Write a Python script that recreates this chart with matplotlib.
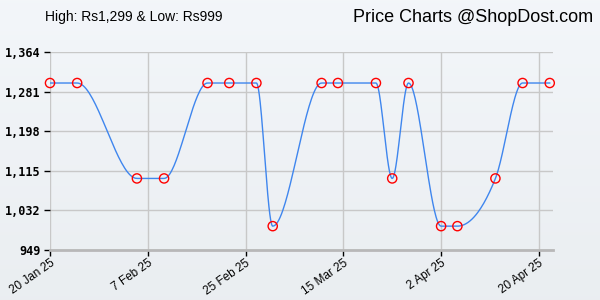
import matplotlib
matplotlib.use("Agg")
import matplotlib.pyplot as plt
import matplotlib.dates as mdates
import numpy as np
import datetime as dt

dates = ["2025-01-20", "2025-01-25", "2025-02-05", "2025-02-10", "2025-02-18",
         "2025-02-22", "2025-02-27", "2025-03-02", "2025-03-11", "2025-03-14",
         "2025-03-21", "2025-03-24", "2025-03-27", "2025-04-02", "2025-04-05",
         "2025-04-12", "2025-04-17", "2025-04-22"]
prices = [1299, 1299, 1099, 1099, 1299, 1299, 1299, 999, 1299, 1299,
          1299, 1099, 1299, 999, 999, 1099, 1299, 1299]
yticks = [949, 1032, 1115, 1198, 1281, 1364]
xtick_dates = ["2025-01-20", "2025-02-07", "2025-02-25", "2025-03-15",
               "2025-04-02", "2025-04-20"]
xtick_labels = ["20 Jan 25", "7 Feb 25", "25 Feb 25", "15 Mar 25",
                "2 Apr 25", "20 Apr 25"]


def monotone_curve(x, y, n=40):
    # monotone cubic between the points, for drawing only
    x = np.asarray(x, float)
    y = np.asarray(y, float)
    h = np.diff(x)
    s = np.diff(y) / h
    m = np.zeros_like(y)
    for i in range(1, len(y) - 1):
        if s[i - 1] * s[i] <= 0:
            m[i] = 0.0
        else:
            p = (s[i - 1] * h[i] + s[i] * h[i - 1]) / (h[i - 1] + h[i])
            m[i] = np.sign(s[i]) * min(2 * abs(s[i - 1]), 2 * abs(s[i]), abs(p))
    m[0] = 0 if s[0] == 0 else s[0]
    m[-1] = 0 if s[-1] == 0 else s[-1]
    xs, ys = [], []
    for i in range(len(h)):
        t = np.linspace(0, 1, n)
        h00 = 2 * t**3 - 3 * t**2 + 1
        h10 = t**3 - 2 * t**2 + t
        h01 = -2 * t**3 + 3 * t**2
        h11 = t**3 - t**2
        xs.append(x[i] + t * h[i])
        ys.append(h00 * y[i] + h10 * h[i] * m[i] + h01 * y[i + 1] + h11 * h[i] * m[i + 1])
    return np.concatenate(xs), np.concatenate(ys)


xd = mdates.date2num([dt.datetime.strptime(d, "%Y-%m-%d") for d in dates])
xt = mdates.date2num([dt.datetime.strptime(d, "%Y-%m-%d") for d in xtick_dates])

fig = plt.figure(figsize=(6, 3), dpi=100)

# background gradient
bg = fig.add_axes([0, 0, 1, 1], zorder=-10)
grad = np.linspace(0, 1, 256).reshape(-1, 1)
top = np.array([0.953, 0.965, 0.980])
bot = np.array([0.918, 0.933, 0.945])
img = top + (bot - top) * grad[:, :, None]
bg.imshow(img, aspect="auto", extent=[0, 1, 0, 1])
bg.axis("off")

ax = fig.add_axes([50 / 600, 1 - 250 / 300, 503 / 600, 198 / 300])
ax.patch.set_alpha(0)

cx, cy = monotone_curve(xd, prices)
ax.plot(cx, cy, color="#3f86ee", lw=1.0, zorder=3)
ax.scatter(xd, prices, s=44, facecolors="none", edgecolors="#ff0000",
           linewidths=1.0, zorder=4, clip_on=False)

ax.set_ylim(949, 1364)
ax.set_xlim(xt[0], xt[0] + 92.6)
ax.set_yticks(yticks)
ax.set_yticklabels([f"{v:,}" for v in yticks], fontsize=8.5,
                   fontweight="bold", family="DejaVu Sans Mono")
ax.set_xticks(xt)
ax.set_xticklabels(xtick_labels, rotation=35, ha="right",
                   rotation_mode="anchor", fontsize=8.5, family="Liberation Sans")
ax.grid(True, color="#c8c8c8", lw=1.0)
ax.set_axisbelow(True)
for side in ["top", "right", "left"]:
    ax.spines[side].set_visible(False)
ax.spines["bottom"].set_color("#b8b8b8")
ax.spines["bottom"].set_linewidth(2)
ax.tick_params(axis="both", length=4, width=1, color="black", pad=3)
ax.tick_params(axis="x", pad=1)

fig.text(45 / 600, 1 - 17 / 300, "High: Rs1,299 & Low: Rs999", fontsize=10,
         family="Liberation Sans", va="center", ha="left")
fig.text(593 / 600, 1 - 17 / 300, "Price Charts @ShopDost.com", fontsize=13,
         family="Liberation Sans", va="center", ha="right")

fig.savefig("out.png", dpi=100)
